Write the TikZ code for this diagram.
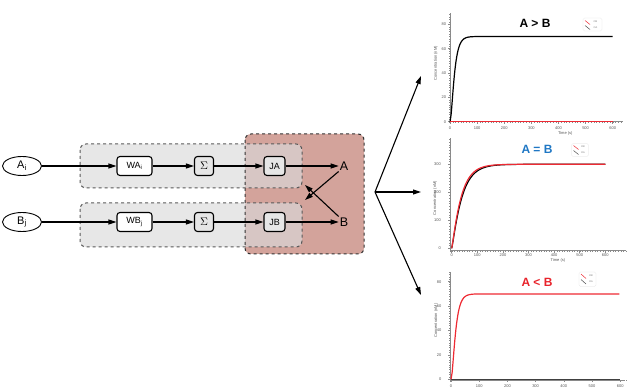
\documentclass[tikz,border=0pt]{standalone}
\usepackage{fontspec}
\setmainfont{Liberation Sans}
\usetikzlibrary{shapes.geometric,arrows.meta}
\definecolor{redbox}{HTML}{D3A39B}
\definecolor{graybox}{HTML}{DADADA}
\definecolor{innerfill}{HTML}{E6E6E6}
\definecolor{titleblue}{HTML}{1F77C4}
\definecolor{titlered}{HTML}{E8232B}
\definecolor{plotred}{HTML}{EE2A33}
\definecolor{axisgray}{HTML}{8A8A8A}
\definecolor{ticktext}{HTML}{555555}
\newcommand{\tickfont}{\fontsize{4}{4}\selectfont}
\newcommand{\titlefont}{\fontsize{12}{12}\selectfont\bfseries}
\begin{document}
\begin{tikzpicture}[x=1pt,y=-1pt,
  arr/.style={-{Triangle[length=8pt,width=5pt]}, line width=1.1pt},
  blk/.style={draw, rounded corners=3pt, line width=1.1pt, minimum height=19pt, inner sep=1pt, font=\fontsize{9}{9}\selectfont},
  oval/.style={ellipse, draw, line width=0.9pt, fill=white, minimum width=39pt, minimum height=19pt, inner sep=0pt, font=\fontsize{11}{11}\selectfont},
  lab/.style={font=\fontsize{12.5}{12.5}\selectfont, inner sep=1pt},
  region/.style={draw=black!80, dashed, line width=1pt, rounded corners=6pt},
  axisline/.style={draw=axisgray, line width=0.6pt},
  ticklab/.style={font=\tickfont, text=ticktext, inner sep=1pt},
  curve/.style={line width=1.2pt},
  legendbox/.style={draw=black!12, fill=white, rounded corners=1.5pt, line width=0.3pt}
]
\useasboundingbox (0,0) rectangle (627,390);

% ---------- regions ----------
\fill[redbox, rounded corners=6pt] (245,134) rectangle (364,254);
\fill[graybox, opacity=0.65, rounded corners=6pt] (80,144) rectangle (302,188);
\fill[graybox, opacity=0.65, rounded corners=6pt] (80,203) rectangle (302,247);
\draw[region] (245,134) rectangle (364,254);
\draw[region, draw=black!65] (80,144) rectangle (302,188);
\draw[region, draw=black!65] (80,203) rectangle (302,247);

% ---------- nodes ----------
\node[oval] (Ai) at (22,166) {A\textsubscript{i}};
\node[oval] (Bj) at (22,222) {B\textsubscript{j}};
\node[blk, fill=white, minimum width=35pt] (WA) at (134.5,166) {WA\textsubscript{i}};
\node[blk, fill=white, minimum width=35pt] (WB) at (134.5,222) {WB\textsubscript{j}};
\node[blk, fill=innerfill, minimum width=19pt, font=\fontsize{11}{11}\selectfont] (SA) at (204,166) {$\Sigma$};
\node[blk, fill=innerfill, minimum width=19pt, font=\fontsize{11}{11}\selectfont] (SB) at (204,222) {$\Sigma$};
\node[blk, fill=innerfill, minimum width=21pt] (JA) at (274.5,166) {JA};
\node[blk, fill=innerfill, minimum width=21pt] (JB) at (274.5,222) {JB};
\node[lab] (A) at (344,166) {A};
\node[lab] (B) at (344,222) {B};

\draw[arr] (Ai) -- (WA);
\draw[arr] (WA) -- (SA);
\draw[arr] (SA) -- (JA);
\draw[arr] (JA) -- (A);
\draw[arr] (Bj) -- (WB);
\draw[arr] (WB) -- (SB);
\draw[arr] (SB) -- (JB);
\draw[arr] (JB) -- (B);
\coordinate (xA) at (305,200);
\coordinate (xB) at (305,185);
\draw[arr] (A.south west) -- (xA);
\draw[arr] (B.north west) -- (xB);

% ---------- fan ----------
\coordinate (fan) at (375,192);
\coordinate (f1) at (421,76);
\coordinate (f2) at (421,192);
\coordinate (f3) at (421,295);
\draw[arr] (fan) -- (f1);
\draw[arr] (fan) -- (f2);
\draw[arr] (fan) -- (f3);

% ---------- chart 1 : A > B ----------
\begin{scope}[shift={(450,121.7)}, x=0.2712pt, y=1.217pt]
  \foreach \t in {0,10,...,630} \draw[axisgray, line width=0.3pt] (\t,0) -- ++(0pt,-1.2pt);
  \foreach \v in {0,2,...,88} \draw[axisgray, line width=0.3pt] (0,\v) -- ++(-1.2pt,0pt);
  \draw[axisline] (0,0) -- (637,0);
  \draw[axisline] (0,-1) -- (0,89);
  \foreach \t in {0,100,...,600} {\draw[axisgray, line width=0.5pt] (\t,0) -- ++(0pt,-2pt); \node[ticklab, anchor=north] at (\t,-3) {\t};}
  \foreach \v in {0,20,...,80} {\draw[axisgray, line width=0.5pt] (0,\v) -- ++(-2pt,0pt); \node[ticklab, anchor=east] at (-10,\v) {\v};}
  \node[ticklab, rotate=90] (yl1) at (-52,48) {Concentration (nM)};
  \node[ticklab] (xl1) at (425,-9.5) {Time (s)};
  \draw[curve, black] plot[domain=0:600, samples=150, smooth] (\x, {70*(1-exp(-\x/12))^2});
  \draw[curve, plotred, line width=1.4pt] (0,0) -- (600,0);
\end{scope}
\node[font=\titlefont] (t1) at (535,23) {A > B};
\draw[legendbox] (583,18) rectangle (602,31);
\draw[plotred, line width=0.5pt] (585,20.5) -- (590,24.5);
\draw[black!70, line width=0.5pt] (585,25.5) -- (590,29.5);
\node[font=\fontsize{2.5}{2.5}\selectfont, text=black!50, inner sep=0] (l1a) at (595.5,22) {OB};
\node[font=\fontsize{2.5}{2.5}\selectfont, text=black!50, inner sep=0] (l1b) at (595.5,27.5) {OA};

% ---------- chart 2 : A = B ----------
\begin{scope}[shift={(451.7,248.3)}, x=0.256pt, y=0.28pt]
  \foreach \t in {0,10,...,680} \draw[axisgray, line width=0.3pt] (\t,-8.5) -- ++(0pt,-1.2pt);
  \foreach \v in {0,10,...,390} \draw[axisgray, line width=0.3pt] (-6,\v) -- ++(-1.2pt,0pt);
  \draw[axisline] (-6,-8.5) -- (680,-8.5);
  \draw[axisline] (-6,-12) -- (-6,394);
  \foreach \t in {0,100,...,600} {\draw[axisgray, line width=0.5pt] (\t,-8.5) -- ++(0pt,-2pt); \node[ticklab, anchor=north] at (\t,-14) {\t};}
  \foreach \v in {0,100,...,300} {\draw[axisgray, line width=0.5pt] (-6,\v) -- ++(-2pt,0pt); \node[ticklab, anchor=east] at (-38,\v) {\v};}
  \node[ticklab, rotate=90] (yl2) at (-65,180) {Concentration (nM)};
  \node[ticklab] (xl2) at (415,-42) {Time (s)};
  \draw[curve, black] plot[domain=0:600, samples=150, smooth] (\x, {300*(1-exp(-\x/37))^1.2});
  \draw[curve, plotred] plot[domain=0:600, samples=150, smooth] (\x, {300*(1-exp(-\x/34))^1.2});
\end{scope}
\node[font=\titlefont, text=titleblue] (t2) at (537,149) {A = B};
\draw[legendbox] (571.5,143.5) rectangle (588.5,156.5);
\draw[plotred, line width=0.5pt] (573.5,145.5) -- (578.5,149.5);
\draw[black!70, line width=0.5pt] (573.5,150.5) -- (578.5,154.5);
\node[font=\fontsize{2.5}{2.5}\selectfont, text=black!50, inner sep=0] (l2a) at (583,147) {OB};
\node[font=\fontsize{2.5}{2.5}\selectfont, text=black!50, inner sep=0] (l2b) at (583,152.5) {OA};

% ---------- chart 3 : A < B ----------
\begin{scope}[shift={(451,379.3)}, x=0.282pt, y=1.22pt]
  \foreach \t in {0,10,...,620} \draw[axisgray, line width=0.3pt] (\t,-0.8) -- ++(0pt,-1.2pt);
  \foreach \v in {0,2,...,88} \draw[axisgray, line width=0.3pt] (-3.5,\v) -- ++(-1.2pt,0pt);
  \draw[axisline] (-3.5,-0.8) -- (617,-0.8);
  \draw[axisline] (-3.5,-2) -- (-3.5,88);
  \foreach \t in {0,100,...,600} {\draw[axisgray, line width=0.5pt] (\t,-0.8) -- ++(0pt,-2pt); \node[ticklab, anchor=north] at (\t,-3.2) {\t};}
  \foreach \v in {0,20,...,80} {\draw[axisgray, line width=0.5pt] (-3.5,\v) -- ++(-2pt,0pt); \node[ticklab, anchor=east] at (-30,\v) {\v};}
  \node[ticklab, rotate=90] (yl3) at (-53,48) {Concentration (nM)};
  \draw[curve, black!75, line width=1.4pt] (0,0) -- (600,0);
  \draw[curve, plotred] plot[domain=0:597, samples=150, smooth] (\x, {70*(1-exp(-\x/12))^2});
\end{scope}
\node[font=\titlefont, text=titlered] (t3) at (537,282) {A < B};
\draw[legendbox] (579,272) rectangle (596,286.5);
\draw[plotred, line width=0.5pt] (581,274) -- (586,278.5);
\draw[black!70, line width=0.5pt] (581,279.5) -- (586,284);
\node[font=\fontsize{2.5}{2.5}\selectfont, text=black!50, inner sep=0] (l3a) at (591,276) {OB};
\node[font=\fontsize{2.5}{2.5}\selectfont, text=black!50, inner sep=0] (l3b) at (591,281.5) {OA};
\end{tikzpicture}
\end{document}
